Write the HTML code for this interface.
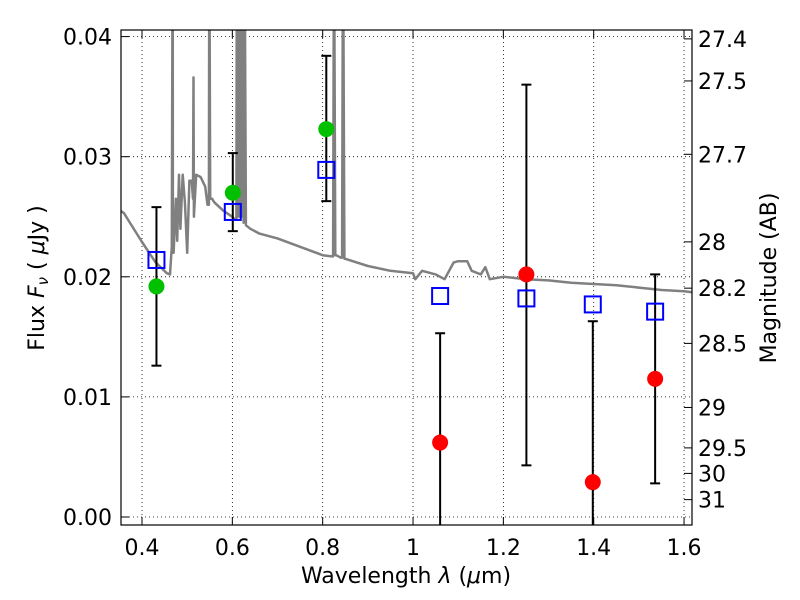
<!DOCTYPE html>
<html><head><meta charset="utf-8"><style>
body{margin:0;background:#fff}
svg{display:block;font-family:"DejaVu Sans","Liberation Sans",sans-serif}
</style></head><body>
<svg id="chart" width="800" height="600" viewBox="0 0 800 600" xmlns="http://www.w3.org/2000/svg">
<defs><clipPath id="clip"><rect x="121" y="30" width="571" height="495"/></clipPath></defs>
<rect x="0" y="0" width="800" height="600" fill="#fff"/>
<g id="grid"></g>
<g id="spec" clip-path="url(#clip)"></g>
<g id="marks"></g>
<rect x="121" y="30" width="571" height="495" fill="none" stroke="#000" stroke-width="1.2"/>
<g id="axes"></g>
<text x="406" y="583" text-anchor="middle" font-size="22">Wavelength  <tspan font-style="italic">λ</tspan> (<tspan font-style="italic">μ</tspan>m)</text>
<text transform="translate(44,278) rotate(-90)" text-anchor="middle" font-size="22">Flux  <tspan font-style="italic">F</tspan><tspan font-style="italic" font-size="15" dy="4">ν</tspan><tspan dy="-4">  ( </tspan><tspan font-style="italic">μ</tspan>Jy )</text>
<text transform="translate(776,278) rotate(-90)" text-anchor="middle" font-size="22">Magnitude (AB)</text>
</svg>
<script>
const specWave=[0.352,0.36,0.40,0.43,0.455,0.462,0.466,0.468,0.4685,0.47,0.475,0.478,0.482,0.485,0.49,0.495,0.5,0.505,0.51,0.513,0.514,0.515,0.52,0.53,0.54,0.545,0.548,0.549,0.551,0.555,0.56,0.58,0.6,0.605,0.609,0.61,0.612,0.614,0.616,0.618,0.62,0.622,0.625,0.627,0.63,0.64,0.66,0.7,0.75,0.8,0.82,0.823,0.825,0.828,0.83,0.84,0.843,0.845,0.848,0.85,0.9,0.95,1.0,1.005,1.02,1.05,1.07,1.09,1.1,1.12,1.13,1.15,1.16,1.17,1.2,1.25,1.3,1.35,1.4,1.45,1.5,1.55,1.6,1.62];
const specFlux=[0.0255,0.0253,0.0229,0.0212,0.0203,0.0202,0.0225,0.05,0.022,0.022,0.0265,0.023,0.0285,0.024,0.0285,0.0262,0.022,0.028,0.028,0.0265,0.0366,0.025,0.0285,0.0283,0.0275,0.026,0.026,0.05,0.0265,0.0265,0.0262,0.0255,0.025,0.0248,0.0248,0.05,0.025,0.05,0.025,0.05,0.025,0.05,0.0245,0.05,0.0243,0.024,0.0236,0.0232,0.0225,0.0218,0.0217,0.0217,0.05,0.0218,0.0218,0.0216,0.0216,0.05,0.0215,0.0215,0.0209,0.0205,0.0203,0.0198,0.0205,0.0202,0.0198,0.0212,0.0213,0.0213,0.0205,0.0202,0.0208,0.0198,0.02,0.0198,0.0197,0.0195,0.0194,0.0193,0.0191,0.0189,0.0188,0.0187];
const modelWave=[0.432,0.601,0.808,1.06,1.251,1.398,1.536];
const modelFlux=[0.0214,0.0254,0.0289,0.0184,0.0182,0.0177,0.0171];
const detWave=[0.432,0.601,0.808];
const detFlux=[0.0192,0.027,0.0323];
const detLo=[0.0126,0.0238,0.0263];
const detHi=[0.0258,0.0303,0.0384];
const nirWave=[1.06,1.251,1.398,1.536];
const nirFlux=[0.0062,0.0202,0.0029,0.0115];
const nirLo=[-0.003,0.0043,-0.003,0.0028];
const nirHi=[0.0153,0.036,0.0163,0.0202];
const xTicks=[0.4,0.6,0.8,1.0,1.2,1.4,1.6];
const xTickLabels=["0.4","0.6","0.8","1","1.2","1.4","1.6"];
const yTicks=[0,0.01,0.02,0.03,0.04];
const yTickLabels=["0.00","0.01","0.02","0.03","0.04"];
const magTicks=[27.4,27.5,27.7,28,28.2,28.5,29,29.5,30,31];
const magTickLabels=["27.4","27.5","27.7","28","28.2","28.5","29","29.5","30","31"];

const NS="http://www.w3.org/2000/svg";
const X=v=>142+(v-0.4)*451.7;
const Y=v=>517-v*12010;
const magToFlux=m=>Math.pow(10,(23.9-m)/2.5);
function mk(t,a,p){const e=document.createElementNS(NS,t);for(const k in a)e.setAttribute(k,a[k]);p.appendChild(e);return e;}
const grid=document.getElementById('grid'),axes=document.getElementById('axes'),spec=document.getElementById('spec'),marks=document.getElementById('marks');

xTicks.forEach((t,i)=>{
  const g=mk('line',{x1:X(t),x2:X(t),y1:30,y2:525,stroke:'#000','stroke-width':0.8,'stroke-dasharray':'1,3'},grid);
  
  
  mk('line',{x1:X(t),x2:X(t),y1:525,y2:517,stroke:'#000'},axes);
  mk('line',{x1:X(t),x2:X(t),y1:30,y2:38,stroke:'#000'},axes);
  const l=mk('text',{x:X(t),y:555,'text-anchor':'middle','font-size':22},axes);
  l.textContent=xTickLabels[i];
  
  
});
yTicks.forEach((t,i)=>{
  const g=mk('line',{x1:121,x2:692,y1:Y(t),y2:Y(t),stroke:'#000','stroke-width':0.8,'stroke-dasharray':'1,3'},grid);
  
  
  mk('line',{x1:121,x2:129,y1:Y(t),y2:Y(t),stroke:'#000'},axes);
  const l=mk('text',{x:112,y:Y(t)+8,'text-anchor':'end','font-size':22},axes);
  l.textContent=yTickLabels[i];
  
  
});
magTicks.forEach((m,i)=>{
  const y=Y(magToFlux(m));
  mk('line',{x1:684,x2:692,y1:y,y2:y,stroke:'#000'},axes);
  const l=mk('text',{x:698,y:y+8,'font-size':22},axes);
  l.textContent=magTickLabels[i];
  
  
});
const pts=specWave.map((w,i)=>X(w).toFixed(1)+','+Y(specFlux[i]).toFixed(1)).join(' ');
const pl=mk('polyline',{points:pts,fill:'none',stroke:'#808080','stroke-width':2.5,'stroke-linejoin':'round'},spec);



function errbar(x,lo,hi){
  const g=mk('g',{stroke:'#000','stroke-width':2},marks);
  
  
  const y1=Math.min(Y(lo),525),y2=Y(hi);
  mk('line',{x1:X(x),x2:X(x),y1:y1,y2:y2},g);
  mk('line',{x1:X(x)-5,x2:X(x)+5,y1:y2,y2:y2},g);
  if(Y(lo)<525)mk('line',{x1:X(x)-5,x2:X(x)+5,y1:y1,y2:y1},g);
}
detWave.forEach((w,i)=>errbar(w,detLo[i],detHi[i]));
nirWave.forEach((w,i)=>errbar(w,nirLo[i],nirHi[i]));
modelWave.forEach((w,i)=>{
  const r=mk('rect',{x:X(w)-8,y:Y(modelFlux[i])-8,width:16,height:16,fill:'none',stroke:'#0000ff','stroke-width':2},marks);
  
  
});
detWave.forEach((w,i)=>{
  const c=mk('circle',{cx:X(w),cy:Y(detFlux[i]),r:8,fill:'#00c000'},marks);
  
  
});
nirWave.forEach((w,i)=>{
  const c=mk('circle',{cx:X(w),cy:Y(nirFlux[i]),r:8,fill:'#ff0000'},marks);
  
  
});
</script>
</body></html>
